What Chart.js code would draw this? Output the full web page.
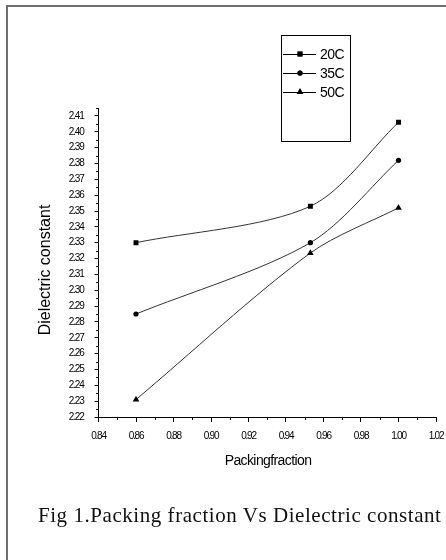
<!DOCTYPE html>
<html>
<head>
<meta charset="utf-8">
<script src="https://cdn.jsdelivr.net/npm/chart.js@4/dist/chart.umd.min.js"></script>
<style>
  html, body { margin: 0; padding: 0; background: #fff; }
  #wrap { position: relative; width: 446px; height: 560px; overflow: hidden; }
  #frame { position: absolute; left: 6px; top: 5px; width: 460px; height: 600px;
           border-left: 2px solid #6e6e6e; border-top: 2px solid #6e6e6e; }
  canvas { position: absolute; left: 0; top: 0; }
  #caption { position: absolute; left: 38px; top: 503px; font-family: "Liberation Serif", "Times New Roman", serif;
             font-size: 21px; letter-spacing: 0.55px; color: #111; white-space: nowrap; }
</style>
</head>
<body>
<div id="wrap">
  <div id="frame"></div>
  <canvas id="c" width="446" height="560"></canvas>
  <div id="caption">Fig 1.Packing fraction Vs Dielectric constant</div>
</div>
<script>
// ---- data ----
const packingFraction = [0.86, 0.953, 1.00];
const seriesLabels = ['20C', '35C', '50C'];
const dc20C = [2.330, 2.353, 2.406];
const dc35C = [2.285, 2.330, 2.382];
const dc50C = [2.231, 2.3235, 2.352];
const xTicks = [0.84, 0.86, 0.88, 0.90, 0.92, 0.94, 0.96, 0.98, 1.00, 1.02];
const yTicks = [2.22, 2.23, 2.24, 2.25, 2.26, 2.27, 2.28, 2.29, 2.30, 2.31, 2.32, 2.33, 2.34, 2.35, 2.36, 2.37, 2.38, 2.39, 2.40, 2.41];
const xTitle = 'Packingfraction';
const yTitle = 'Dielectric constant';

const pointStyles = ['rect', 'circle', 'triangle'];
const pointRadii = [3.5, 2.6, 3.8];
const allSeries = [dc20C, dc35C, dc50C];

const datasets = allSeries.map((vals, i) => ({
  label: seriesLabels[i],
  data: packingFraction.map((x, j) => ({ x: x, y: vals[j] })),
  showLine: true,
  tension: 0.3,
  borderColor: '#333',
  borderWidth: 1,
  pointStyle: pointStyles[i],
  pointRadius: pointRadii[i],
  pointBackgroundColor: '#000',
  pointBorderColor: '#000',
  pointBorderWidth: 0
}));

Chart.defaults.font.family = '"Liberation Sans", Arial, sans-serif';
Chart.defaults.color = '#000';

const decor = {
  id: 'decor',
  beforeDraw(chart) {
    chart.ctx.letterSpacing = '-1.2px';
  },
  afterDraw(chart) {
    const ctx = chart.ctx;
    const xs = chart.scales.x, ys = chart.scales.y;
    ctx.save();
    ctx.letterSpacing = '0px';
    ctx.strokeStyle = '#000';
    ctx.lineWidth = 1;
    // minor ticks
    ctx.beginPath();
    for (let i = 0; i < yTicks.length; i++) {
      const v = yTicks[i] + 0.005;
      const py = Math.round(ys.getPixelForValue(v)) + 0.5;
      ctx.moveTo(xs.left - 2.5, py); ctx.lineTo(xs.left, py);
    }
    for (let i = 0; i < xTicks.length - 1; i++) {
      const v = xTicks[i] + 0.01;
      const px = Math.round(xs.getPixelForValue(v)) + 0.5;
      ctx.moveTo(px, ys.bottom); ctx.lineTo(px, ys.bottom + 3);
    }
    ctx.stroke();

    // axis titles
    ctx.fillStyle = '#000';
    ctx.font = '14px "Liberation Sans", Arial, sans-serif';
    ctx.letterSpacing = '-0.6px';
    ctx.textAlign = 'center';
    ctx.textBaseline = 'middle';
    ctx.fillText(xTitle, 268, 461);
    ctx.save();
    ctx.translate(46, 270);
    ctx.rotate(-Math.PI / 2);
    ctx.font = '16px "Liberation Sans", Arial, sans-serif';
    ctx.letterSpacing = '0px';
    ctx.fillText(yTitle, 0, 0);
    ctx.restore();

    // legend box
    ctx.letterSpacing = '-0.5px';
    ctx.strokeStyle = '#000';
    ctx.lineWidth = 1;
    ctx.strokeRect(281.5, 35.5, 69, 106);
    const rows = [54, 73, 92];
    datasets.forEach((ds, i) => {
      const y = rows[i];
      ctx.beginPath();
      ctx.moveTo(283, y + 0.5); ctx.lineTo(316, y + 0.5);
      ctx.strokeStyle = '#000';
      ctx.stroke();
      Chart.helpers.drawPoint(ctx, { pointStyle: ds.pointStyle, radius: ds.pointRadius, borderWidth: 0 }, 300, y);
      ctx.fillStyle = '#000';
      ctx.fill();
      ctx.font = '14px "Liberation Sans", Arial, sans-serif';
      ctx.textAlign = 'left';
      ctx.textBaseline = 'middle';
      ctx.fillText(ds.label, 320, y + 1);
    });
    ctx.restore();
    ctx.letterSpacing = '0px';
  }
};

new Chart(document.getElementById('c'), {
  type: 'scatter',
  data: { datasets: datasets },
  options: {
    responsive: false,
    animation: false,
    layout: { padding: { left: 0, right: 10, top: 108, bottom: 0 } },
    plugins: { legend: { display: false }, tooltip: { enabled: false } },
    scales: {
      x: {
        type: 'linear',
        min: 0.84, max: 1.02,
        afterFit(s) { s.height = 143; s.paddingRight = 0; s.paddingLeft = 0; },
        afterBuildTicks(s) { s.ticks = xTicks.map(v => ({ value: v })); },
        grid: { drawOnChartArea: false, drawTicks: true, tickLength: 5, color: '#000' },
        border: { display: true, color: '#000', width: 1 },
        ticks: { font: { size: 10 }, padding: 8, maxRotation: 0, autoSkip: false,
                 callback: v => Number(v).toFixed(2) }
      },
      y: {
        type: 'linear',
        min: 2.22, max: 2.415,
        afterFit(s) { s.width = 98.5; s.paddingTop = 0; s.paddingBottom = 0; },
        afterBuildTicks(s) { s.ticks = yTicks.map(v => ({ value: v })); },
        grid: { drawOnChartArea: false, drawTicks: true, tickLength: 4, color: '#000' },
        border: { display: true, color: '#000', width: 1 },
        ticks: { font: { size: 10 }, padding: 11, autoSkip: false,
                 callback: v => Number(v).toFixed(2) }
      }
    }
  },
  plugins: [decor]
});
</script>
</body>
</html>
